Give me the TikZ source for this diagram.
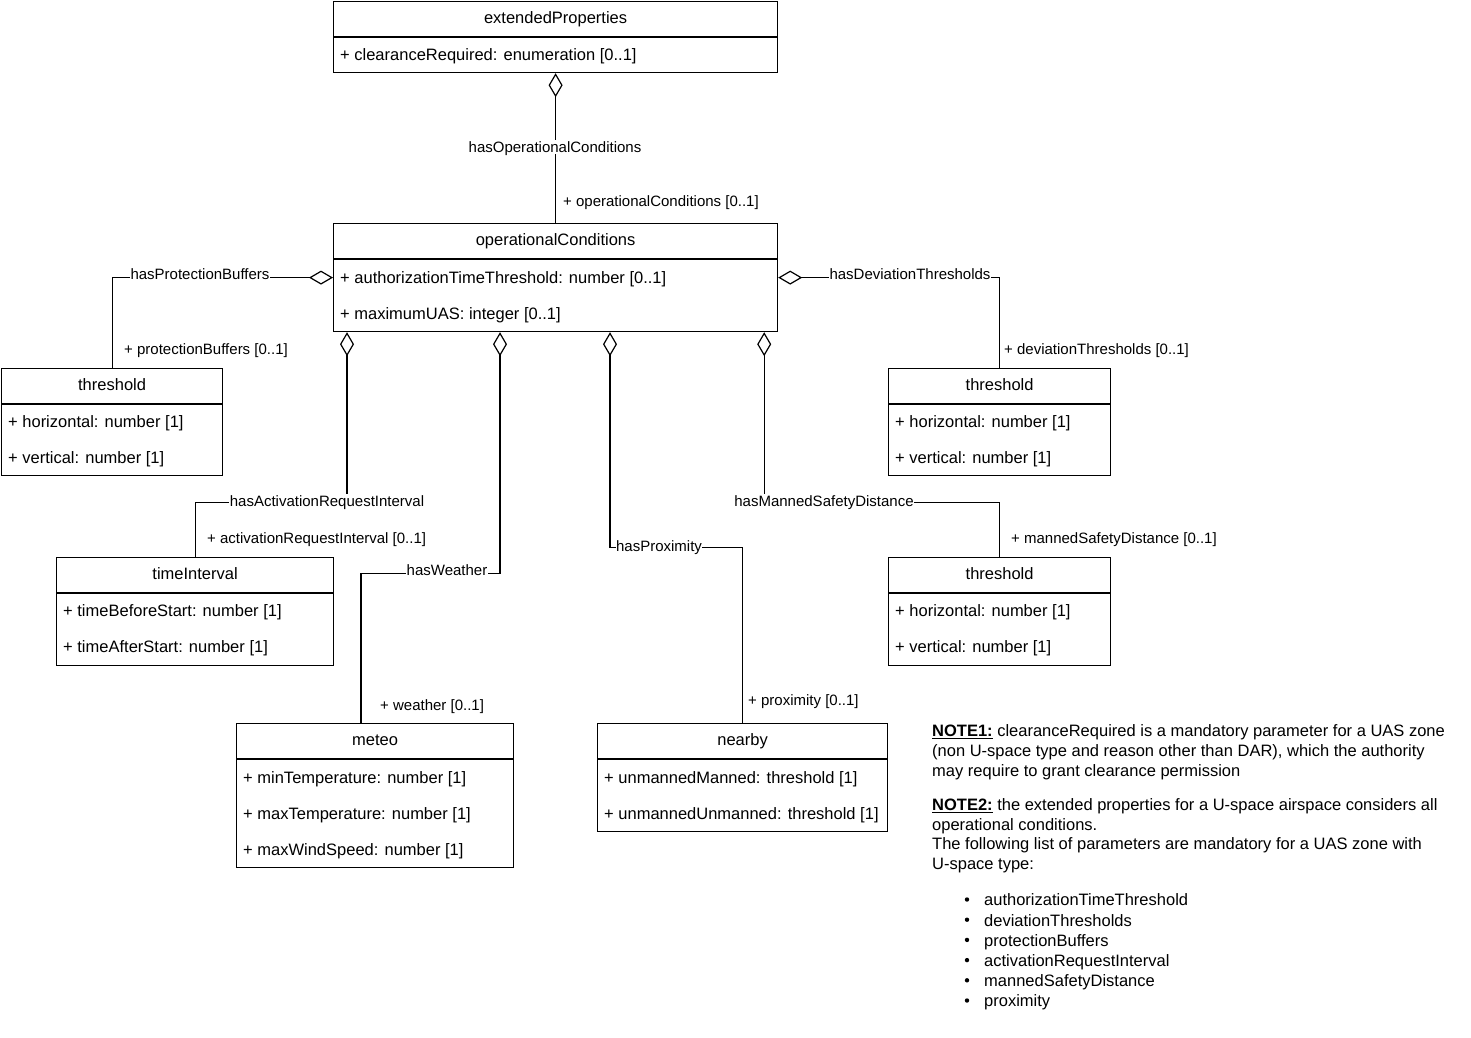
\documentclass[tikz,border=0pt]{standalone}
\usepackage{fontspec}
\setmainfont{Liberation Sans}
\usetikzlibrary{arrows.meta}
\newcommand\umlcls[6]{%
  \node[clsbox, minimum width=#4pt, minimum height=#5pt] (#1) at (#2,#3) {};
  \draw[clsline] ([yshift=-36pt]#1.north west) -- ([yshift=-36pt]#1.north east);
  \node[clstitle] (#1-t) at ([yshift=-17pt]#1.north) {#6};
}
\newcommand\umlattr[4]{%
  \node[clsattr] (#1-#2) at ([xshift=7pt,yshift=-#3pt]#1.north west) {#4};
}
\begin{document}
\begin{tikzpicture}[x=1pt,y=1pt,
  clsbox/.style={draw, line width=1.2pt, anchor=north west, inner sep=0pt, fill=white},
  clsline/.style={line width=1.2pt},
  clstitle/.style={font=\fontsize{16.5}{20}\selectfont, text height=11.8pt, text depth=0pt, inner sep=0pt, anchor=center},
  clsattr/.style={font=\fontsize{16.5}{20}\selectfont, text height=11.8pt, text depth=0pt, inner sep=0pt, anchor=west},
  agg/.style={line width=1.2pt, {Diamond[fill=white,length=24pt,width=14pt]}-},
  lbl/.style={font=\fontsize{15}{18}\selectfont, fill=white, inner xsep=0.5pt, inner ysep=2pt, text height=10.7pt, text depth=0pt},
  role/.style={font=\fontsize{15}{18}\selectfont, text height=10.7pt, text depth=0pt, inner sep=0pt, anchor=west},
  note/.style={font=\fontsize{16.5}{20}\selectfont, text height=11.8pt, text depth=0pt, inner sep=0pt, anchor=west},
]
\useasboundingbox (0,0) rectangle (1471,-1037);

% classes
\umlcls{ext}{333}{-1}{444}{71}{extendedProperties}
\umlattr{ext}{a1}{54}{+ clearanceRequired: enumeration [0..1]}

\umlcls{oc}{333}{-223}{444}{108}{operationalConditions}
\umlattr{oc}{a1}{55}{+ authorizationTimeThreshold: number [0..1]}
\umlattr{oc}{a2}{91}{+ maximumUAS: integer [0..1]}

\umlcls{thrA}{1}{-368}{221}{107}{threshold}
\umlattr{thrA}{a1}{54}{+ horizontal: number [1]}
\umlattr{thrA}{a2}{90}{+ vertical: number [1]}

\umlcls{thrB}{888}{-368}{222}{107}{threshold}
\umlattr{thrB}{a1}{54}{+ horizontal: number [1]}
\umlattr{thrB}{a2}{90}{+ vertical: number [1]}

\umlcls{ti}{56}{-557}{277}{108}{timeInterval}
\umlattr{ti}{a1}{54}{+ timeBeforeStart: number [1]}
\umlattr{ti}{a2}{90}{+ timeAfterStart: number [1]}

\umlcls{thrC}{888}{-557}{222}{108}{threshold}
\umlattr{thrC}{a1}{54}{+ horizontal: number [1]}
\umlattr{thrC}{a2}{90}{+ vertical: number [1]}

\umlcls{met}{236}{-723}{277}{144}{meteo}
\umlattr{met}{a1}{55}{+ minTemperature: number [1]}
\umlattr{met}{a2}{91}{+ maxTemperature: number [1]}
\umlattr{met}{a3}{127}{+ maxWindSpeed: number [1]}

\umlcls{nb}{597}{-723}{290}{108}{nearby}
\umlattr{nb}{a1}{55}{+ unmannedManned: threshold [1]}
\umlattr{nb}{a2}{91}{+ unmannedUnmanned: threshold [1]}

% connectors
\draw[agg] (ext.south) -- (oc.north);
\node[lbl] (l1) at (555,-147) {hasOperationalConditions};
\node[role] (r1) at (563,-201) {+ operationalConditions [0..1]};

\draw[agg] (oc.west) -| (thrA.north);
\node[lbl] (l2) at (200,-274) {hasProtectionBuffers};
\node[role] (r2) at (124,-349) {+ protectionBuffers [0..1]};

\draw[agg] (oc.east) -| (thrB.north);
\node[lbl] (l3) at (910,-274) {hasDeviationThresholds};
\node[role] (r3) at (1004,-349) {+ deviationThresholds [0..1]};

\draw[agg] ([xshift=14pt]oc.south west) -- ++(0,-170) -| (ti.north);
\node[lbl] (l4) at (327,-501) {hasActivationRequestInterval};
\node[role] (r4) at (207,-538) {+ activationRequestInterval [0..1]};

\draw[agg] ([xshift=167pt]oc.south west) -- ++(0,-241) -| ([xshift=125pt]met.north west);
\node[lbl] (l5) at (447,-570) {hasWeather};
\node[role] (r5) at (380,-705) {+ weather [0..1]};

\draw[agg] ([xshift=277pt]oc.south west) -- ++(0,-215) -| (nb.north);
\node[lbl] (l6) at (659,-546) {hasProximity};
\node[role] (r6) at (748,-700) {+ proximity [0..1]};

\draw[agg] ([xshift=-14pt]oc.south east) -- ++(0,-170) -| (thrC.north);
\node[lbl] (l7) at (824,-501) {hasMannedSafetyDistance};
\node[role] (r7) at (1011,-538) {+ mannedSafetyDistance [0..1]};

% notes
\node[note] (n1) at (932,-731) {\underline{\textbf{NOTE1:}} clearanceRequired is a mandatory parameter for a UAS zone};
\node[note] (n2) at (932,-751) {(non U-space type and reason other than DAR), which the authority};
\node[note] (n3) at (932,-771) {may require to grant clearance permission};
\node[note] (n4) at (932,-805) {\underline{\textbf{NOTE2:}} the extended properties for a U-space airspace considers all};
\node[note] (n5) at (932,-825) {operational conditions.};
\node[note] (n6) at (932,-844) {The following list of parameters are mandatory for a UAS zone with};
\node[note] (n7) at (932,-864) {U-space type:};
\foreach \t [count=\i] in {authorizationTimeThreshold,deviationThresholds,protectionBuffers,activationRequestInterval,mannedSafetyDistance,proximity}{
  \node[note] (b\i) at (984,{-900-20.2*(\i-1)}) {\t};
  \fill (967,{-900-20.2*(\i-1)+0.5}) circle (2.2pt);
}
\end{tikzpicture}
\end{document}
